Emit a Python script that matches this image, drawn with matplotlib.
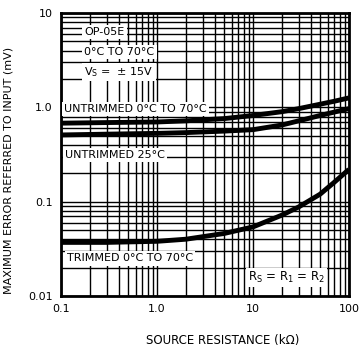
import matplotlib.pyplot as plt

# source resistance (kOhm)
res = [0.1, 0.3, 1.0, 2.0, 5.0, 10, 20, 30, 50, 70, 100]
# maximum error referred to input (mV)
untrimmed_0_70 = [0.68, 0.69, 0.70, 0.72, 0.76, 0.82, 0.90, 0.97, 1.08, 1.16, 1.26]
untrimmed_25 = [0.51, 0.52, 0.53, 0.54, 0.56, 0.58, 0.65, 0.72, 0.82, 0.89, 0.97]
trimmed_0_70 = [0.037, 0.037, 0.038, 0.040, 0.046, 0.054, 0.072, 0.088, 0.12, 0.16, 0.22]

plt.rcParams['font.family'] = ['DejaVu Sans']

fig = plt.figure(figsize=(3.59, 3.53), dpi=100)
ax = fig.add_axes([0.170, 0.1615, 0.802, 0.8015])
ax.set_xscale('log')
ax.set_yscale('log')
ax.set_xlim(0.1, 100)
ax.set_ylim(0.01, 10)

ax.grid(True, which='both', color='black', linewidth=1.0)
for s in ax.spines.values():
    s.set_linewidth(2)

ax.plot(res, untrimmed_0_70, color='black', linewidth=3.5, solid_capstyle='butt')
ax.plot(res, untrimmed_25, color='black', linewidth=3.5, solid_capstyle='butt')
ax.plot(res, trimmed_0_70, color='black', linewidth=3.5, solid_capstyle='butt')

ax.set_xticks([0.1, 1, 10, 100])
ax.set_xticklabels(['0.1', '1.0', '10', '100'])
ax.set_yticks([0.01, 0.1, 1, 10])
ax.set_yticklabels(['0.01', '0.1', '1.0', '10'])
ax.tick_params(which='both', length=0, labelsize=8, pad=6)

box = dict(facecolor='white', edgecolor='none', pad=1.5)
fs = 8
ax.text(0.175, 6.3, 'OP-05E', fontsize=fs, ha='left', va='center', bbox=box)
ax.text(0.175, 3.85, '0°C TO 70°C', fontsize=fs, ha='left', va='center', bbox=box)
ax.text(0.175, 2.37, '$\\mathregular{V_S}$ =  ± 15V', fontsize=fs, ha='left', va='center', bbox=box)
ax.text(0.107, 0.96, 'UNTRIMMED 0°C TO 70°C', fontsize=fs, ha='left', va='center', bbox=box)
ax.text(0.11, 0.31, 'UNTRIMMED 25°C', fontsize=fs, ha='left', va='center', bbox=box)
ax.text(0.115, 0.025, 'TRIMMED 0°C TO 70°C', fontsize=fs, ha='left', va='center', bbox=box)
ax.text(22.5, 0.0158, '$\\mathregular{R_S}$ = $\\mathregular{R_1}$ = $\\mathregular{R_2}$',
        fontsize=fs + 0.5, ha='center', va='center', bbox=box)

ax.set_xlabel('SOURCE RESISTANCE (kΩ)', fontsize=8.5)
ax.set_ylabel('MAXIMUM ERROR REFERRED TO INPUT (mV)', fontsize=8)
ax.xaxis.set_label_coords(0.56, -0.135)
ax.yaxis.set_label_coords(-0.165, 0.445)

fig.savefig('out.png', dpi=100)
